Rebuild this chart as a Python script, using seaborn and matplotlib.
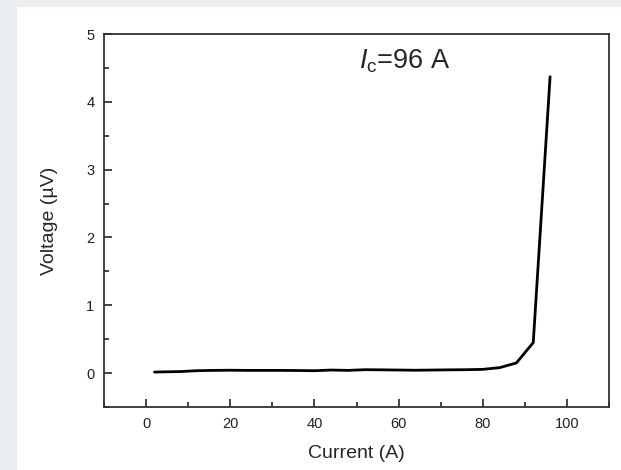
import matplotlib
matplotlib.use("Agg")
import matplotlib.pyplot as plt
import seaborn as sns
import pandas as pd
from matplotlib.ticker import MultipleLocator
from matplotlib.patches import Rectangle

# Measured V-I curve of the conductor sample
current_a = [2, 4, 8, 12, 16, 20, 24, 28, 32, 36, 40, 44, 48, 52, 56, 60,
             64, 68, 72, 76, 80, 84, 88, 92, 96]
voltage_uv = [0.015, 0.018, 0.022, 0.035, 0.04, 0.042, 0.04, 0.04, 0.04, 0.038,
              0.035, 0.045, 0.04, 0.05, 0.048, 0.045, 0.042, 0.045, 0.048, 0.05,
              0.055, 0.08, 0.15, 0.45, 4.37]
critical_current = 96

df = pd.DataFrame({"Current (A)": current_a, "Voltage (µV)": voltage_uv})

sns.set_theme(style="white")
plt.rcParams["font.family"] = ["Liberation Sans", "DejaVu Sans"]
plt.rcParams["mathtext.fontset"] = "custom"
plt.rcParams["mathtext.rm"] = "Liberation Sans"
plt.rcParams["mathtext.it"] = "Liberation Sans:italic"

fig = plt.figure(figsize=(6.21, 4.70), dpi=100)
fig.patch.set_facecolor("#ebeff2")
# white panel behind the chart
fig.patches.append(Rectangle((17 / 621, 0), 1 - 17 / 621, 1 - 7 / 470,
                             transform=fig.transFigure, facecolor="white",
                             edgecolor="none", zorder=-10))

ax = fig.add_axes([104 / 621, 1 - 407 / 470, 505 / 621, 373 / 470])
ax.set_facecolor("white")

sns.lineplot(data=df, x="Current (A)", y="Voltage (µV)", ax=ax,
             color="black", linewidth=2.0)

ax.set_xlim(-10, 110)
ax.set_ylim(-0.5, 5)
ax.xaxis.set_major_locator(MultipleLocator(20))
ax.xaxis.set_minor_locator(MultipleLocator(10))
ax.yaxis.set_major_locator(MultipleLocator(1))
ax.yaxis.set_minor_locator(MultipleLocator(0.5))

ax.tick_params(which="both", direction="in", colors="#222222",
               bottom=True, left=True, top=False, right=False,
               labelsize=10.5, width=1.2, pad=7)
ax.tick_params(which="major", length=6)
ax.tick_params(which="minor", length=3.5)
for sp in ax.spines.values():
    sp.set_color("#333333")
    sp.set_linewidth(1.3)

ax.set_xlabel("Current (A)", fontsize=14, labelpad=10)
ax.set_ylabel("Voltage (µV)", fontsize=14, labelpad=20)

ax.text(61.5, 4.6, r"$\mathit{I}_{\mathrm{c}}$=" + f"{critical_current} A",
        fontsize=19.5, ha="center", va="center")

fig.savefig("out.png", dpi=100, facecolor=fig.get_facecolor())
